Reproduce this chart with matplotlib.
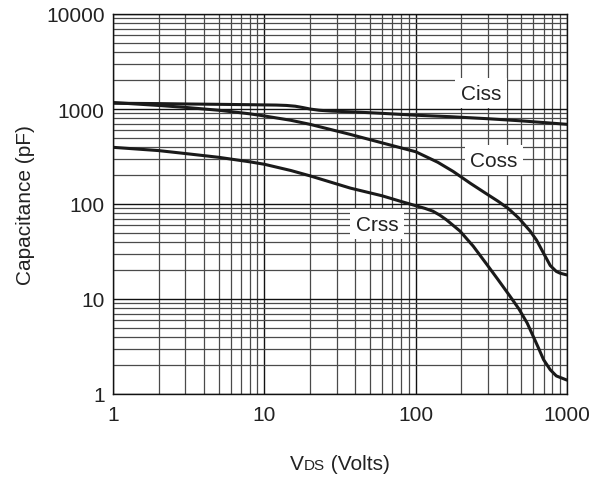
import matplotlib
matplotlib.use("Agg")
import matplotlib.pyplot as plt
from matplotlib.offsetbox import TextArea, HPacker, AnchoredOffsetbox
from matplotlib.ticker import LogLocator, FixedLocator, NullFormatter

plt.rcParams['font.family'] = ['Liberation Sans', 'DejaVu Sans']

ciss_v = [1, 2, 3, 5, 8, 12, 14, 16, 18, 20, 23, 28, 40, 60, 100, 170, 300, 500, 1000]
ciss_c = [1150, 1140, 1130, 1120, 1110, 1100, 1090, 1070, 1035, 1000, 970, 950, 930, 900, 860, 830, 790, 750, 690]

coss_v = [1, 2, 3, 5, 8, 10, 15, 20, 37, 60, 100, 140, 177, 230, 296, 350, 408, 480, 570, 630, 695, 775, 850, 900, 1000]
coss_c = [1170, 1090, 1040, 970, 890, 845, 760, 690, 540, 440, 355, 275, 220, 165, 127, 107, 90, 71, 52, 41.5, 31, 22.5, 19.5, 18.7, 17.9]

crss_v = [1, 2, 3.2, 5, 8, 10, 15, 20, 37, 60, 79, 100, 115, 130, 145, 160, 196, 240, 296, 350, 420, 480, 545, 600, 645, 700, 775, 850, 1000]
crss_c = [395, 365, 336, 310, 278, 262, 225, 198, 147, 122, 107, 96, 90, 84, 76, 68, 52, 36, 23, 16, 10.7, 7.9, 5.6, 4.0, 3.1, 2.3, 1.8, 1.55, 1.4]

labels = ["Ciss", "Coss", "Crss"]
label_v = [270, 330, 55.6]
label_c = [1473, 290, 61.5]

x_ticks = [1, 10, 100, 1000]
x_tick_labels = ["1", "10", "100", "1000"]
y_ticks = [1, 10, 100, 1000, 10000]
y_tick_labels = ["1", "10", "100", "1000", "10000"]

fig = plt.figure(figsize=(6.07, 4.81), dpi=100)
ax = fig.add_axes([113/607, 86/481, 454/607, 380/481])
ax.set_xscale('log')
ax.set_yscale('log')
ax.set_xlim(1, 1000)
ax.set_ylim(1, 10000)

ax.xaxis.set_major_locator(FixedLocator(x_ticks))
ax.set_xticklabels(x_tick_labels)
ax.yaxis.set_major_locator(FixedLocator(y_ticks))
ax.set_yticklabels(y_tick_labels)
ax.xaxis.set_minor_locator(LogLocator(base=10, subs=range(2, 10), numticks=20))
ax.yaxis.set_minor_locator(LogLocator(base=10, subs=range(2, 10), numticks=20))
ax.xaxis.set_minor_formatter(NullFormatter())
ax.yaxis.set_minor_formatter(NullFormatter())
ax.tick_params(which='both', length=0, labelsize=15, colors='#222222')
ax.tick_params(axis='x', pad=8)
ax.tick_params(axis='y', pad=6)

ax.grid(which='major', color='#111111', lw=1.0)
ax.grid(which='minor', color='#4a4a4a', lw=0.9)
ax.set_axisbelow(True)
for s in ax.spines.values():
    s.set_color('#111111')
    s.set_linewidth(1.0)

for v, c in [(ciss_v, ciss_c), (coss_v, coss_c), (crss_v, crss_c)]:
    ax.plot(v, c, color='#1a1a1a', lw=2.2, solid_capstyle='round', solid_joinstyle='round')

for t, v, c in zip(labels, label_v, label_c):
    ax.text(v, c, t, fontsize=15, ha='center', va='center', color='#222222',
            bbox=dict(facecolor='white', edgecolor='none', pad=4))

ax.set_ylabel("Capacitance (pF)", fontsize=15, color='#222222', labelpad=8)

xl = HPacker(children=[TextArea("V", textprops=dict(fontsize=15, color='#222222')),
                       TextArea("DS", textprops=dict(fontsize=11, color='#222222')),
                       TextArea(" (Volts)", textprops=dict(fontsize=15, color='#222222'))],
             align='baseline', pad=0, sep=0)
ab = AnchoredOffsetbox(loc='center', child=xl, frameon=False,
                       bbox_to_anchor=(340/607, 1 - 465/481), bbox_transform=fig.transFigure,
                       borderpad=0, pad=0)
fig.add_artist(ab)

fig.savefig("out.png", dpi=100)
